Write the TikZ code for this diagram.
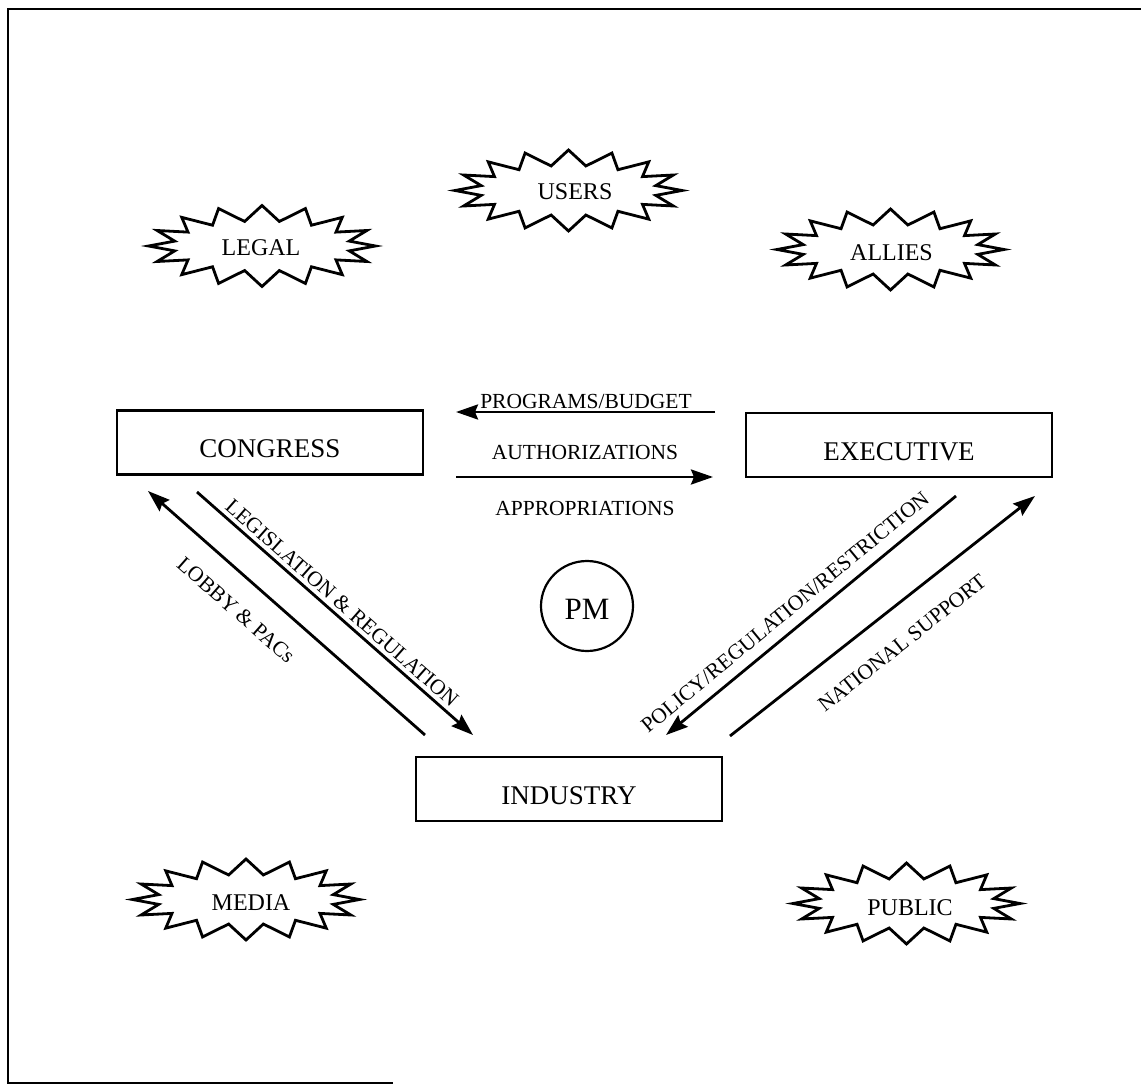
\documentclass[tikz,border=0pt]{standalone}
\usepackage{fontspec}
\setmainfont{Liberation Serif}
\usetikzlibrary{arrows.meta,calc,shapes.geometric}
\newcommand\burst[2]{%
  \draw[starline, shift={(#1,#2)}] (113.5,0)
    \foreach \k in {0,...,14}{
      -- ({89*cos(22.5*\k+11.25)},{25*sin(22.5*\k+11.25)})
      -- ({113.5*cos(22.5*(\k+1))},{40.5*sin(22.5*(\k+1))})
    }
    -- ({89*cos(348.75)},{25*sin(348.75)}) -- cycle;}
\begin{document}
\begin{tikzpicture}[x=1pt,y=-1pt,
  box/.style={draw, line width=2.8pt, minimum width=306pt, minimum height=64pt,
    inner sep=0pt, text height=30pt, text depth=0pt, font=\fontsize{27}{30}\selectfont},
  lbl/.style={inner sep=0pt, font=\fontsize{21.5}{24}\selectfont},
  starlbl/.style={inner sep=0pt, font=\fontsize{24}{28}\selectfont},
  starline/.style={line width=2.8pt, line join=miter, miter limit=20},
  arr/.style={line width=2.8pt, -{Stealth[length=22pt,width=15pt,inset=3pt]}},
  frameline/.style={line width=2.8pt},
  pmnode/.style={draw, ellipse, line width=2.2pt, minimum width=92pt, minimum height=90pt,
    inner sep=0pt, text height=26pt, text depth=0pt, font=\fontsize{31}{34}\selectfont},
]
\useasboundingbox (0,0) rectangle (1141,1086);
\draw[frameline] (1141,9) -- (8,9) -- (8,1083) -- (393,1083);

% boxes
\node[box] (congress) at (270,442.5) {CONGRESS};
\node[box] (executive) at (899,445) {EXECUTIVE};
\node[box] (industry) at (569,789) {INDUSTRY};
\node[pmnode] (pm) at (587,606) {PM};

% starbursts
\burst{568.5}{190.5}\node[starlbl] (users) at (575,192) {USERS};
\burst{262}{246}\node[starlbl] (legal) at (261,248) {LEGAL};
\burst{890.5}{249.5}\node[starlbl] (allies) at (891.5,253) {ALLIES};
\burst{246}{899.5}\node[starlbl] (media) at (251,903) {MEDIA};
\burst{906.5}{903.5}\node[starlbl] (public) at (910,908) {PUBLIC};

% horizontal arrows
\coordinate (pbA) at (715,412);
\coordinate (pbB) at (456,412);
\coordinate (auA) at (456,477);
\coordinate (auB) at (713,477);
\draw[arr] (pbA) -- (pbB);
\draw[arr] (auA) -- (auB);
\node[lbl] (pbt) at (586,401.5) {PROGRAMS/BUDGET};
\node[lbl] (aut) at (585,452) {AUTHORIZATIONS};
\node[lbl] (apt) at (585,508) {APPROPRIATIONS};

% diagonal arrows
\coordinate (lobA) at (425,735);
\coordinate (lobB) at (148,491);
\coordinate (legA) at (197,492);
\coordinate (legB) at (473,735);
\coordinate (polA) at (956,496);
\coordinate (polB) at (666,735);
\coordinate (natA) at (730,736);
\coordinate (natB) at (1035,496);
\draw[arr] (lobA) -- (lobB);
\draw[arr] (legA) -- (legB);
\draw[arr] (polA) -- (polB);
\draw[arr] (natA) -- (natB);
\node[lbl, rotate=-41.4] (legt) at (342,603) {LEGISLATION \& REGULATION};
\node[lbl, rotate=-41.4] (lobt) at (236,610) {LOBBY \& PACs};
\node[lbl, rotate=39.5] (polt) at (785,612) {POLICY/REGULATION/RESTRICTION};
\node[lbl, rotate=38.3] (natt) at (902,643) {NATIONAL SUPPORT};
\end{tikzpicture}
\end{document}
